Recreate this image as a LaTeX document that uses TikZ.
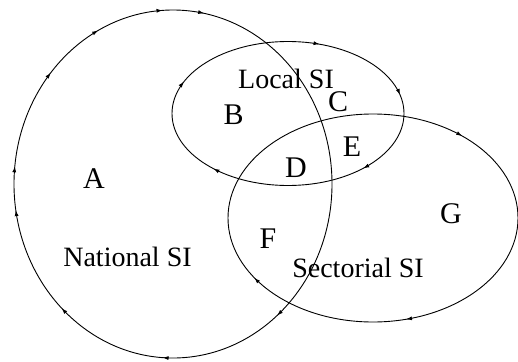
\documentclass[tikz,border=0pt]{standalone}
\usepackage{fontspec}
\setmainfont{Liberation Serif}
\usetikzlibrary{decorations.markings,arrows.meta}
\tikzset{
  setline/.style={line width=0.9pt},
  flowmark/.style={postaction={decorate,decoration={markings,mark=at position #1 with {\arrow{>}}}}},
  region/.style={inner sep=0pt,font=\fontsize{30}{34}\selectfont},
  setname/.style={inner sep=0pt,font=\fontsize{28}{32}\selectfont},
}
\begin{document}
\begin{tikzpicture}[x=1pt,y=-1pt,>={Latex[length=6pt,width=4pt]},line join=bevel]
\useasboundingbox (0,0) rectangle (518,361);
%%
\draw [setline,flowmark/.list={0.14,0.26,0.37,0.475,0.517,0.614,0.675,0.74,0.78}]
  (332,184) arc[start angle=0,end angle=360,x radius=159,y radius=174];
\draw [setline,flowmark/.list={0.12,0.379,0.558,0.803,0.968}]
  (404,113.5) arc[start angle=0,end angle=360,x radius=116,y radius=72];
\draw [setline,flowmark/.list={0.208,0.415,0.868}]
  (518,218) arc[start angle=0,end angle=360,x radius=145,y radius=104];
%
\node (national) at (127.5,256.5) [setname] {National SI};
\node (local) at (286,79) [setname] {Local SI};
\node (sectorial) at (358,268) [setname] {Sectorial SI};
%
\node (reg_a) at (94,178.5) [region] {A};
\node (reg_b) at (233.5,115) [region] {B};
\node (reg_c) at (338,102) [region] {C};
\node (reg_d) at (296,168) [region] {D};
\node (reg_e) at (352,147) [region] {E};
\node (reg_f) at (268,239) [region] {F};
\node (reg_g) at (451,214) [region] {G};
%
\end{tikzpicture}
\end{document}
